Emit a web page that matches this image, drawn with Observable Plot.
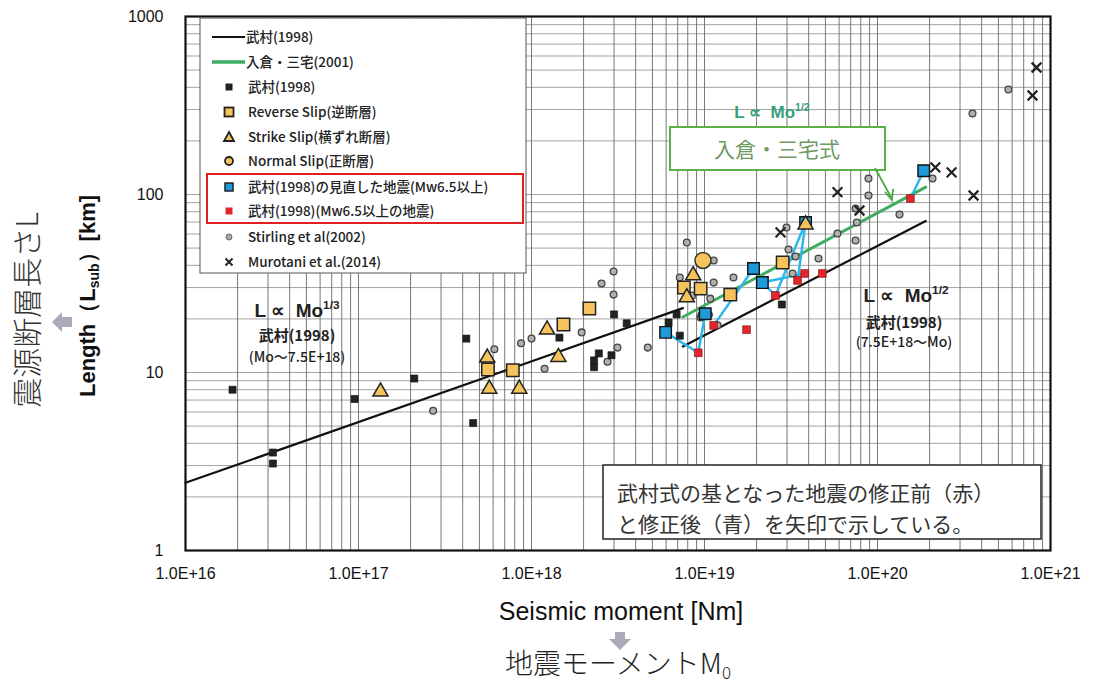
<!DOCTYPE html>
<html><head><meta charset="utf-8">
<script src="https://cdn.jsdelivr.net/npm/d3@7"></script>
<script src="https://cdn.jsdelivr.net/npm/@observablehq/plot@0.6"></script>
<style>body{margin:0;background:#fff;} #c{position:relative;width:1100px;height:689px;}</style>
</head><body><div id="c"></div>
<script>
// ---- data (Seismic moment [Nm], Length [km]) ----
const takemuraLine1M = [1e16, 7.5e18];
const takemuraLine1L = [2.4, 23];
const takemuraLine2M = [7.5e18, 1.9e20];
const takemuraLine2L = [14, 71];
const irikuraLineM = [7.5e18, 1.9e20];
const irikuraLineL = [20.5, 110];

const takemuraM = [1.87e16, 3.2e16, 3.2e16, 9.5e16, 2.1e17, 4.2e17, 4.6e17, 1.45e18, 2.3e18, 2.3e18, 2.45e18, 2.9e18, 3.0e18, 3.55e18, 6.2e18, 6.9e18, 7.2e18, 2.8e19];
const takemuraL = [8.0, 3.55, 3.08, 7.1, 9.25, 15.5, 5.2, 15.7, 11.7, 10.7, 12.8, 12.5, 21.2, 18.9, 19.1, 21.2, 16.1, 24.1];

const reverseM = [5.6e17, 7.8e17, 1.53e18, 2.16e18, 7.6e18, 9.5e18, 1.41e19, 2.83e19];
const reverseL = [10.4, 10.3, 18.6, 22.9, 30, 29.6, 27.4, 41.5];

const strikeM = [1.34e17, 5.55e17, 5.7e17, 8.5e17, 1.23e18, 1.43e18, 7.9e18, 8.6e18, 3.84e19];
const strikeL = [7.8, 12.1, 8.1, 8.1, 17.4, 12.2, 26.4, 35.1, 67.8];

const normalM = [9.8e18];
const normalL = [42.6];

const revisedM = [5.96e18, 1.01e19, 1.92e19, 2.16e19, 3.84e19, 1.85e20];
const revisedL = [16.8, 21.4, 38.4, 32, 69.6, 136];

const originalM = [9.2e18, 1.13e19, 1.75e19, 2.57e19, 3.45e19, 3.79e19, 4.8e19, 1.55e20];
const originalL = [12.9, 18.4, 17.4, 27.1, 32.9, 36, 36, 95];

const arrowFromM = [9.2e18, 9.2e18, 1.13e19, 2.57e19, 2.57e19, 3.79e19, 3.45e19, 1.55e20];
const arrowFromL = [12.9, 12.9, 18.4, 27.1, 27.1, 36, 32.9, 95];
const arrowToM = [5.96e18, 1.01e19, 1.92e19, 2.16e19, 3.84e19, 2.16e19, 3.84e19, 1.85e20];
const arrowToL = [16.8, 21.4, 38.4, 32, 69.6, 32, 69.6, 136];

const stirlingM = [2.7e17, 6.1e17, 8.7e17, 1.0e18, 1.19e18, 1.95e18, 2.54e18, 2.98e18, 2.98e18, 3.14e18, 2.75e18, 4.7e18, 7.9e18, 1.13e19, 7.2e18, 1.13e19, 1.47e19, 8.5e18, 1.08e19, 9.5e18, 9.6e18, 1.06e19, 1.19e19, 2.98e19, 3.06e19, 3.36e19, 3.23e19, 4.56e19, 5.87e19, 7.47e19, 7.6e19, 7.47e19, 8.87e19, 8.87e19, 1.34e20, 2.08e20, 3.54e20, 5.71e20];
const stirlingL = [6.1, 13.5, 14.6, 15.5, 10.5, 16.8, 31.6, 36.9, 27.4, 13.8, 11.5, 13.8, 53.7, 42.6, 34.2, 32, 34.2, 27.1, 26, 20.4, 21.1, 21.1, 18.4, 65.3, 49.1, 44.8, 36, 43.7, 60.4, 83.4, 69.6, 55.2, 123, 98.7, 77.2, 123, 285, 389];

const murotaniM = [2.75e19, 5.87e19, 7.87e19, 2.16e20, 2.68e20, 3.59e20, 7.87e20, 8.3e20];
const murotaniL = [61.2, 103, 81.3, 142, 133, 98.7, 360, 517];

const xTickValues = [1e16, 1e17, 1e18, 1e19, 1e20, 1e21];
const xTickLabels = ["1.0E+16", "1.0E+17", "1.0E+18", "1.0E+19", "1.0E+20", "1.0E+21"];
const yTickValues = [1, 10, 100, 1000];
const yTickLabels = ["1", "10", "100", "1000"];

const legendLabels = ["武村(1998)", "入倉・三宅(2001)", "武村(1998)", "Reverse Slip(逆断層)", "Strike Slip(横ずれ断層)", "Normal Slip(正断層)", "武村(1998)の見直した地震(Mw6.5以上)", "武村(1998)(Mw6.5以上の地震)", "Stirling et al(2002)", "Murotani et al.(2014)"];

// ---- helpers ----
const pts = (M, L) => M.map((m, i) => ({M: m, L: L[i]}));
const xGrid = [], yGrid = [];
for (let e = 16; e <= 20; e++) for (let k = 1; k <= 9; k++) xGrid.push(k * 10 ** e);
xGrid.push(1e21);
for (let e = 0; e <= 2; e++) for (let k = 1; k <= 9; k++) yGrid.push(k * 10 ** e);
yGrid.push(1000);

const links = arrowFromM.map((m, i) => ({x1: m, y1: arrowFromL[i], x2: arrowToM[i], y2: arrowToL[i]}));
const xTickData = xTickValues.map((v, i) => ({v, label: xTickLabels[i]}));
const yTickData = yTickValues.map((v, i) => ({v, label: yTickLabels[i]}));

const YEL = "#f5c35b", BLUE = "#1f9ad8", RED = "#e2262b", CYAN = "#2db7ea", GREEN = "#3fae63";

const chart = Plot.plot({
  width: 1100, height: 689,
  marginLeft: 185, marginRight: 50, marginTop: 16, marginBottom: 139,
  style: {fontFamily: "'Liberation Sans', Arial, sans-serif", background: "white", color: "#111"},
  x: {type: "log", domain: [1e16, 1e21], axis: null},
  y: {type: "log", domain: [1, 1000], axis: null},
  marks: [
    Plot.ruleY(yGrid, {stroke: "#8a8a8a", strokeWidth: 0.8}),
    Plot.ruleX(xGrid, {stroke: "#6a6a6a", strokeWidth: 0.9}),
    Plot.text(xTickData, {x: "v", text: "label", frameAnchor: "bottom", dy: 28, fontSize: 16, fill: "#111"}),
    Plot.text(yTickData, {y: "v", text: "label", frameAnchor: "left", dx: -22, textAnchor: "end", fontSize: 16, fill: "#111"}),
    Plot.line(pts(takemuraLine1M, takemuraLine1L), {x: "M", y: "L", stroke: "#111", strokeWidth: 2.2}),
    Plot.line(pts(takemuraLine2M, takemuraLine2L), {x: "M", y: "L", stroke: "#111", strokeWidth: 2.2}),
    Plot.line(pts(irikuraLineM, irikuraLineL), {x: "M", y: "L", stroke: GREEN, strokeWidth: 3}),
    Plot.link(links, {x1: "x1", y1: "y1", x2: "x2", y2: "y2", stroke: CYAN, strokeWidth: 2.5}),
    Plot.dot(pts(stirlingM, stirlingL), {x: "M", y: "L", r: 3.4, fill: "#b0b0b0", stroke: "#444", strokeWidth: 1.3}),
    Plot.dot(pts(takemuraM, takemuraL), {x: "M", y: "L", symbol: "square", r: 4, fill: "#222", stroke: "#111", strokeWidth: 0.6}),
    Plot.dot(pts(murotaniM, murotaniL), {x: "M", y: "L", symbol: "times", r: 4.5, stroke: "#222", strokeWidth: 2.2}),
    Plot.dot(pts(originalM, originalL), {x: "M", y: "L", symbol: "square", r: 4.4, fill: RED, stroke: "#7a1010", strokeWidth: 0.6}),
    Plot.dot(pts(revisedM, revisedL), {x: "M", y: "L", symbol: "square", r: 6.5, fill: BLUE, stroke: "#111", strokeWidth: 1.4}),
    Plot.dot(pts(reverseM, reverseL), {x: "M", y: "L", symbol: "square", r: 7, fill: YEL, stroke: "#222", strokeWidth: 1.5}),
    Plot.dot(pts(strikeM, strikeL), {x: "M", y: "L", symbol: "triangle", r: 5.6, fill: YEL, stroke: "#222", strokeWidth: 1.5}),
    Plot.dot(pts(normalM, normalL), {x: "M", y: "L", r: 8, fill: YEL, stroke: "#333", strokeWidth: 1.5}),
    Plot.frame({stroke: "#111", strokeWidth: 2.2})
  ]
});
document.getElementById("c").appendChild(chart);

// ---- annotations and legend drawn on top ----
const svg = d3.select(chart);
const g = svg.append("g").attr("text-anchor", "start");
const JP = "'Noto Sans CJK JP', 'Liberation Sans', sans-serif";

// legend box
g.append("rect").attr("x", 200).attr("y", 18).attr("width", 326).attr("height", 255).attr("fill", "white").attr("stroke", "#555").attr("stroke-width", 1);
g.append("rect").attr("x", 207).attr("y", 174).attr("width", 316).attr("height", 49).attr("fill", "none").attr("stroke", "#e02020").attr("stroke-width", 2);
const rowY = [37, 62, 87, 112, 137, 161, 187, 211, 237, 262];
rowY.forEach((yy, i) => {
  const tx = i < 2 ? 246 : 248;
  g.append("text").attr("x", tx).attr("y", yy).attr("dy", "0.36em").attr("text-anchor", "start").attr("font-family", JP).attr("font-size", 13.5).attr("font-weight", 500).attr("fill", "#222").text(legendLabels[i]);
});
g.append("line").attr("x1", 212).attr("x2", 245).attr("y1", rowY[0]).attr("y2", rowY[0]).attr("stroke", "#111").attr("stroke-width", 2);
g.append("line").attr("x1", 212).attr("x2", 245).attr("y1", rowY[1]).attr("y2", rowY[1]).attr("stroke", GREEN).attr("stroke-width", 3.5);
const sx = 229;
g.append("rect").attr("x", sx - 3.5).attr("y", rowY[2] - 3.5).attr("width", 7).attr("height", 7).attr("fill", "#222");
g.append("rect").attr("x", sx - 4.5).attr("y", rowY[3] - 4.5).attr("width", 9).attr("height", 9).attr("fill", YEL).attr("stroke", "#222").attr("stroke-width", 1.8);
g.append("path").attr("d", `M${sx},${rowY[4]-5}L${sx+5},${rowY[4]+4}L${sx-5},${rowY[4]+4}Z`).attr("fill", YEL).attr("stroke", "#222").attr("stroke-width", 1.8);
g.append("circle").attr("cx", sx).attr("cy", rowY[5]).attr("r", 4).attr("fill", YEL).attr("stroke", "#222").attr("stroke-width", 1.8);
g.append("rect").attr("x", sx - 4).attr("y", rowY[6] - 4).attr("width", 8).attr("height", 8).attr("fill", BLUE).attr("stroke", "#222").attr("stroke-width", 1.5);
g.append("rect").attr("x", sx - 3.5).attr("y", rowY[7] - 3.5).attr("width", 7).attr("height", 7).attr("fill", RED);
g.append("circle").attr("cx", sx).attr("cy", rowY[8]).attr("r", 3).attr("fill", "#aaa").attr("stroke", "#666").attr("stroke-width", 1);
g.append("path").attr("d", `M${sx-3.5},${rowY[9]-3.5}L${sx+3.5},${rowY[9]+3.5}M${sx+3.5},${rowY[9]-3.5}L${sx-3.5},${rowY[9]+3.5}`).attr("stroke", "#222").attr("stroke-width", 2);

// power-law annotations
function powText(x, y, color, exp, size) {
  const t = g.append("text").attr("x", x).attr("y", y).attr("font-family", "'Liberation Sans', Arial, sans-serif").attr("font-size", size).attr("font-weight", 600).attr("fill", color).attr("text-anchor", "middle");
  t.append("tspan").text("L ∝  Mo");
  t.append("tspan").attr("font-size", size * 0.62).attr("dy", -size * 0.4).text(exp);
}
powText(297, 317, "#222", "1/3", 19);
g.append("text").attr("x", 297).attr("y", 341).attr("text-anchor", "middle").attr("font-family", JP).attr("font-size", 15).attr("font-weight", 600).attr("fill", "#222").text("武村(1998)");
g.append("text").attr("x", 297).attr("y", 362).attr("text-anchor", "middle").attr("font-family", JP).attr("font-size", 14).attr("font-weight", 500).attr("fill", "#222").text("(Mo～7.5E+18)");

powText(906, 302, "#222", "1/2", 19);
g.append("text").attr("x", 904).attr("y", 328).attr("text-anchor", "middle").attr("font-family", JP).attr("font-size", 15).attr("font-weight", 600).attr("fill", "#222").text("武村(1998)");
g.append("text").attr("x", 904).attr("y", 347).attr("text-anchor", "middle").attr("font-family", JP).attr("font-size", 14).attr("font-weight", 500).attr("fill", "#222").text("(7.5E+18～Mo)");

powText(772, 118, "#35a07a", "1/2", 17);

// green callout box
g.append("rect").attr("x", 670).attr("y", 127).attr("width", 215).attr("height", 43).attr("fill", "white").attr("stroke", "#5cb04a").attr("stroke-width", 2);
g.append("text").attr("x", 777).attr("y", 149).attr("dy", "0.36em").attr("text-anchor", "middle").attr("font-family", JP).attr("font-size", 21).attr("fill", "#6f9a62").text("入倉・三宅式");
g.append("path").attr("d", "M875,168L892,199").attr("stroke", "#4fa843").attr("stroke-width", 1.8).attr("fill", "none");
g.append("path").attr("d", "M885,192L892,200L893,189").attr("stroke", "#4fa843").attr("stroke-width", 1.8).attr("fill", "none");

// note box
g.append("rect").attr("x", 603).attr("y", 465).attr("width", 438).attr("height", 74).attr("fill", "white").attr("stroke", "#222").attr("stroke-width", 1.5);
g.append("text").attr("x", 617).attr("y", 493).attr("dy", "0.36em").attr("text-anchor", "start").attr("font-family", JP).attr("font-size", 21).attr("fill", "#333").text("武村式の基となった地震の修正前（赤）");
g.append("text").attr("x", 617).attr("y", 524).attr("dy", "0.36em").attr("text-anchor", "start").attr("font-family", JP).attr("font-size", 21).attr("fill", "#333").text("と修正後（青）を矢印で示している。");

// axis titles
const yt = g.append("text").attr("transform", "translate(95,296) rotate(-90)").attr("text-anchor", "middle").attr("font-family", "'Liberation Sans', Arial, sans-serif").attr("font-size", 22).attr("font-weight", 700).attr("fill", "#111");
yt.append("tspan").text("Length（L");
yt.append("tspan").attr("font-size", 14).attr("dy", 4).text("sub");
yt.append("tspan").attr("dy", -4).text("）[km]");
g.append("text").attr("transform", "translate(38,310) rotate(-90)").attr("text-anchor", "middle").attr("font-family", JP).attr("font-size", 30).attr("font-weight", 300).attr("fill", "#333").text("震源断層長さL");
g.append("path").attr("d", "M52,322L62,312L62,317L72,317L72,327L62,327L62,332Z").attr("fill", "#a9abb8");

g.append("text").attr("x", 621).attr("y", 620).attr("text-anchor", "middle").attr("font-family", "'Liberation Sans', Arial, sans-serif").attr("font-size", 25).attr("fill", "#111").text("Seismic moment [Nm]");
g.append("path").attr("d", "M615,632L625,632L625,639L631,639L620,650L609,639L615,639Z").attr("fill", "#a9abb8");
const mt = g.append("text").attr("x", 618).attr("y", 674).attr("text-anchor", "middle").attr("font-family", JP).attr("font-size", 28).attr("font-weight", 300).attr("fill", "#222");
mt.append("tspan").text("地震モーメントM");
mt.append("tspan").attr("font-size", 17).attr("dy", 5).text("0");
</script>
</body></html>
